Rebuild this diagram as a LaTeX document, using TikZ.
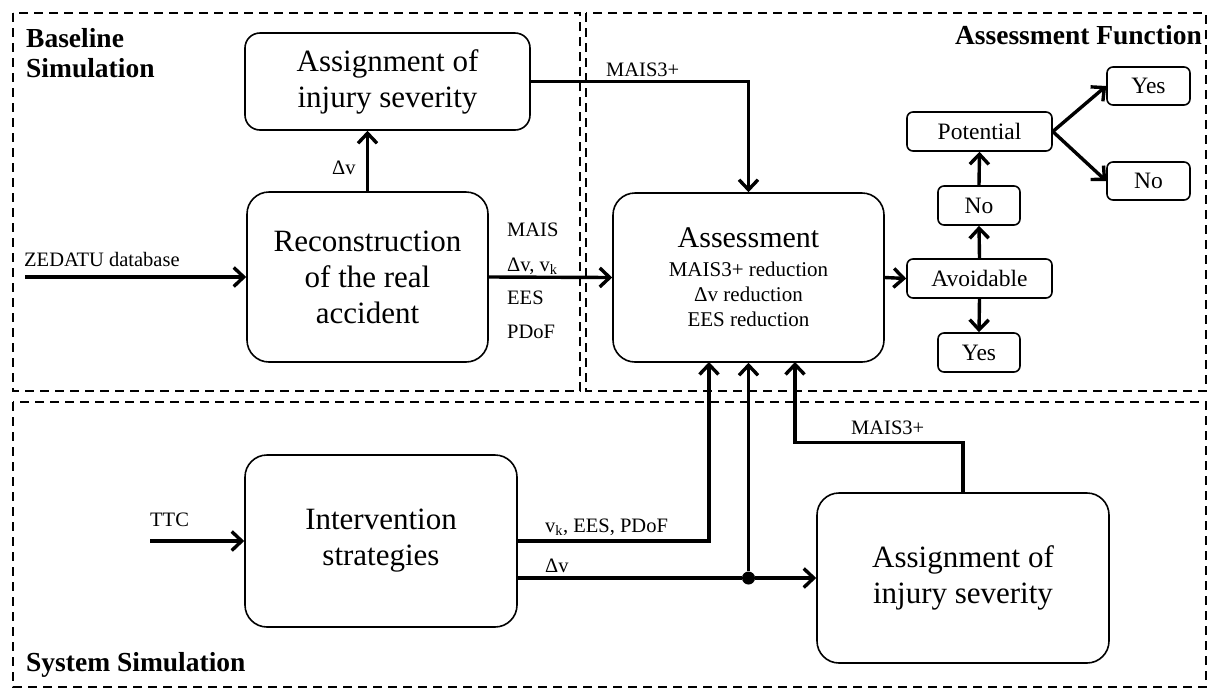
\documentclass[tikz,border=0pt]{standalone}
\usepackage{fontspec}
\setmainfont{Liberation Serif}
\usepackage{xcolor}
\usepackage{tikz}
\usetikzlibrary{arrows.meta,positioning}
\definecolor{ink}{HTML}{000000}
\definecolor{paper}{HTML}{FFFFFF}
\tikzset{
  frame/.style={draw=ink, line width=2.4pt, dash pattern=on 9pt off 6pt},
  bigbox/.style={draw=ink, line width=1.6pt, rounded corners=22pt, align=center, inner sep=0pt, font=\fontsize{31}{36}\selectfont},
  smallbox/.style={draw=ink, line width=1.6pt, rounded corners=6pt, inner sep=0pt, font=\fontsize{23.5}{26}\selectfont},
  flow/.style={draw=ink, line width=3.4pt, -{Straight Barb[length=10pt,width=19pt]}},
  wire/.style={draw=ink, line width=3.4pt},
  lab/.style={text=ink, anchor=west, inner sep=0pt, font=\fontsize{20.5}{24}\selectfont},
  head/.style={text=ink, inner sep=0pt, align=left, font=\bfseries\fontsize{27.5}{30}\selectfont},
  junc/.style={circle, fill=ink, inner sep=0pt, minimum size=13pt},
}

\begin{document}
\begin{tikzpicture}[x=1pt, y=-1pt]
\useasboundingbox[fill=paper] (0,0) rectangle (1210,689);

% the three regions
\draw[frame] (13,13) rectangle (580,391);
\draw[frame] (586,13) rectangle (1206,391);
\draw[frame] (13,402) rectangle (1206,687);
\node[head, anchor=west] (basehead) at (26,53) {Baseline\\Simulation};
\node[head, anchor=east] (assesshead) at (1202,35) {Assessment Function};
\node[head, anchor=west] (syshead) at (26,665) {System Simulation};

% baseline simulation
\node[bigbox, rounded corners=15pt, minimum width=285pt, minimum height=97pt] (topassign) at (387.5,81.5) {Assignment of\\injury severity};
\node[bigbox, minimum width=241pt, minimum height=170pt] (recon) at (367.5,277) {Reconstruction\\of the real\\accident};

% assessment function
\node[bigbox, minimum width=271pt, minimum height=169pt, font=\fontsize{21}{25}\selectfont] (assess) at (748.5,277.5) {{\fontsize{30}{34}\selectfont Assessment}\\[4pt]MAIS3+ reduction\\Δv reduction\\EES reduction};
\node[smallbox, minimum width=145pt, minimum height=39pt] (avoid) at (979.5,278.5) {Avoidable};
\node[smallbox, minimum width=82pt, minimum height=39pt] (nomid) at (979,205.5) {No};
\node[smallbox, minimum width=145pt, minimum height=39pt] (potential) at (979.5,131.5) {Potential};
\node[smallbox, minimum width=83pt, minimum height=38pt] (yestop) at (1148.5,86) {Yes};
\node[smallbox, minimum width=83pt, minimum height=38pt] (noright) at (1148.5,181) {No};
\node[smallbox, minimum width=82pt, minimum height=39pt] (yesbot) at (979,352.5) {Yes};

% system simulation
\node[bigbox, minimum width=272pt, minimum height=172pt] (interv) at (381,541) {Intervention\\strategies};
\node[bigbox, minimum width=292pt, minimum height=170pt] (lowassign) at (963,578) {Assignment of\\injury severity};
\node[junc] (split) at (748.5,578) {};

\coordinate (dbin) at (25,277);
\coordinate (ttcin) at (150,541);
\coordinate (vkin) at (709,362);
\coordinate (maisin) at (795,362);

\draw[flow] (dbin) -- (recon.west);
\draw[flow] (recon.north) -- (recon.north |- topassign.south);
\draw[flow] (topassign.east) -| (assess.north);
\draw[flow] (recon.east) -- (assess.west);
\draw[flow] (assess.east) -- (avoid.west);
\draw[flow] (avoid.north) -- (nomid.south);
\draw[flow] (nomid.north) -- (potential.south);
\draw[flow] (avoid.south) -- (yesbot.north);
\draw[flow] (potential.east) -- (yestop.west);
\draw[flow] (potential.east) -- (noright.west);

\draw[flow] (ttcin) -- (interv.west);
\draw[flow] (interv.east) -| (vkin);
\draw[wire] (interv.east |- lowassign.west) -- (split);
\draw[flow] (split) -- (lowassign.west);
\draw[flow] (split) -- (assess.south);
\draw[flow] (lowassign.north) -- ++(0,-50) -| (maisin);

% signal labels
\node[lab] (dblab) at (24,259) {ZEDATU database};
\node[lab] (dvlab) at (332,168) {Δv};
\node[lab] (maislab) at (606,70) {MAIS3+};
\node[lab] (sig1) at (507,230) {MAIS};
\node[lab] (sig2) at (507,266) {Δv, v\textsubscript{k}};
\node[lab] (sig3) at (507,298) {EES};
\node[lab] (sig4) at (507,332) {PDoF};
\node[lab] (ttclab) at (150,520) {TTC};
\node[lab] (vklab) at (545,527) {v\textsubscript{k}, EES, PDoF};
\node[lab] (dvlab2) at (545,566) {Δv};
\node[lab] (maislab2) at (851,428) {MAIS3+};
\end{tikzpicture}
\end{document}
